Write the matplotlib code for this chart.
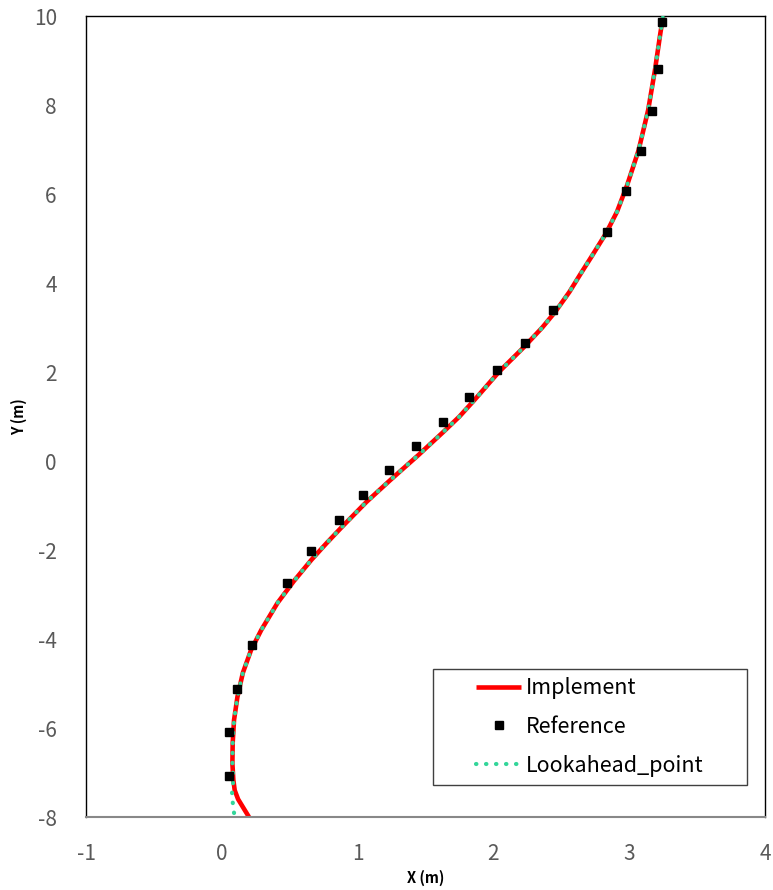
import matplotlib.pyplot as plt
from matplotlib.patches import Rectangle

# reference waypoints (m)
ref_x = [3.24, 3.21, 3.17, 3.09, 2.98, 2.84, 2.44, 2.23, 2.03, 1.82, 1.63,
         1.43, 1.23, 1.04, 0.86, 0.66, 0.48, 0.22, 0.11, 0.05, 0.05]
ref_y = [9.87, 8.81, 7.87, 6.97, 6.07, 5.15, 3.39, 2.65, 2.05, 1.44, 0.88,
         0.34, -0.20, -0.76, -1.33, -2.02, -2.74, -4.14, -5.12, -6.09, -7.08]

# implemented vehicle path (m)
imp_x = [0.20, 0.16, 0.12, 0.095, 0.085, 0.078, 0.08, 0.09, 0.115, 0.155,
         0.215, 0.29, 0.41, 0.53, 0.66, 0.77, 0.885, 1.065, 1.24, 1.45, 1.63,
         1.75, 1.86, 2.04, 2.225, 2.36, 2.455, 2.56, 2.645, 2.72, 2.83, 2.91,
         2.985, 3.07, 3.14, 3.19, 3.23, 3.25]
imp_y = [-8.00, -7.80, -7.60, -7.40, -7.17, -6.80, -6.34, -5.82, -5.30, -4.76,
         -4.25, -3.80, -3.19, -2.70, -2.22, -1.85, -1.48, -0.92, -0.43, 0.14,
         0.65, 1.00, 1.37, 2.00, 2.56, 3.00, 3.35, 3.80, 4.22, 4.58, 5.12,
         5.60, 6.20, 6.99, 7.89, 8.79, 9.62, 10.0]

# lookahead points (m)
look_x = [0.09, 0.08, 0.075, 0.085, 0.078, 0.08, 0.09, 0.115, 0.155,
          0.215, 0.29, 0.41, 0.53, 0.66, 0.77, 0.885, 1.065, 1.24, 1.45, 1.63,
          1.75, 1.86, 2.04, 2.225, 2.36, 2.455, 2.56, 2.645, 2.72, 2.83, 2.91,
          2.985, 3.07, 3.14, 3.19, 3.23, 3.25]
look_y = [-7.91, -7.66, -7.44, -7.17, -6.80, -6.34, -5.82, -5.30, -4.76,
          -4.25, -3.80, -3.19, -2.70, -2.22, -1.85, -1.48, -0.92, -0.43, 0.14,
          0.65, 1.00, 1.37, 2.00, 2.56, 3.00, 3.35, 3.80, 4.22, 4.58, 5.12,
          5.60, 6.20, 6.99, 7.89, 8.79, 9.62, 10.0]

x_ticks = [-1, 0, 1, 2, 3, 4]
y_ticks = [-8, -6, -4, -2, 0, 2, 4, 6, 8, 10]

plt.rcParams['font.family'] = ['Noto Sans CJK KR', 'DejaVu Sans']
plt.rcParams['axes.unicode_minus'] = False

fig = plt.figure(figsize=(7.73, 8.90), dpi=100)
ax = fig.add_axes([0.1113, 0.082, 0.8783, 0.900])

ax.plot(imp_x, imp_y, color='#ff0000', linewidth=3.3, label='Implement',
        solid_capstyle='butt', zorder=2)
ax.plot(ref_x, ref_y, 's', color='black', markersize=5.5, linestyle='none',
        label='Reference', zorder=4)
ax.plot(look_x, look_y, color='#33d69a', linewidth=3.0, linestyle=(0, (0.1, 2.3)),
        dash_capstyle='round', label='Lookahead_point', zorder=3)

ax.set_xlim(-1, 4)
ax.set_ylim(-8, 10)
ax.set_xticks(x_ticks)
ax.set_yticks(y_ticks)
ax.tick_params(length=0, labelsize=15, labelcolor='#595959')
ax.tick_params(axis='x', pad=19)
ax.tick_params(axis='y', pad=21)

for side in ['left', 'top', 'right']:
    ax.spines[side].set_color('black')
    ax.spines[side].set_linewidth(1.0)
ax.spines['bottom'].set_color('#888888')
ax.spines['bottom'].set_linewidth(1.5)

ax.set_xlabel('X (m)', fontsize=10.5, fontweight='bold', labelpad=3)
ax.set_ylabel('Y (m)', fontsize=10.5, fontweight='bold', labelpad=5)

# legend box drawn separately so the entries sit centred with wide side margins
ax.add_patch(Rectangle((0.511, 0.040), 0.4625, 0.145, transform=ax.transAxes,
                       facecolor='white', edgecolor='#404040', linewidth=1.0,
                       zorder=5))
leg = ax.legend(loc='center', bbox_to_anchor=(0.742, 0.1125), fontsize=15.5,
                frameon=False, handlelength=2.1, borderpad=0.0,
                labelspacing=0.78, handletextpad=0.2)
leg.set_zorder(6)

fig.savefig('out.png', dpi=100)
